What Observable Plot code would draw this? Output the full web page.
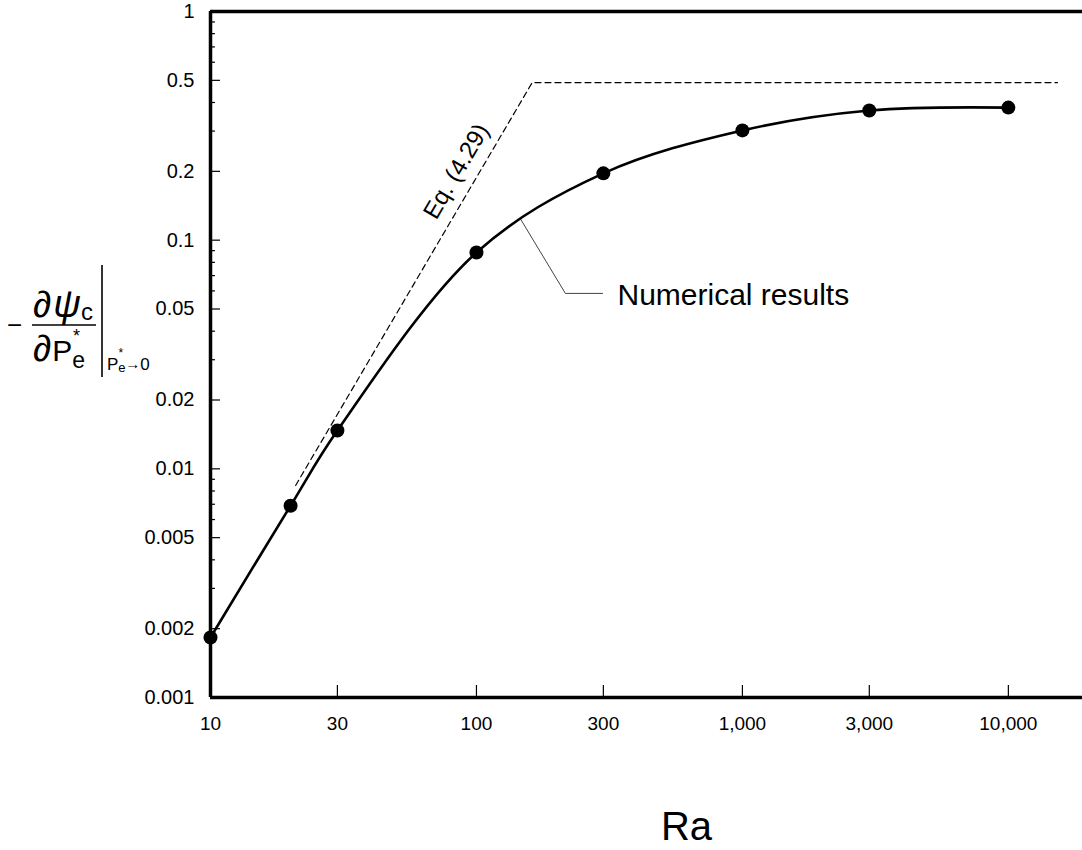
<!DOCTYPE html>
<html>
<head>
<meta charset="utf-8">
<script src="https://cdn.jsdelivr.net/npm/d3@7"></script>
<script src="https://cdn.jsdelivr.net/npm/@observablehq/plot@0.6"></script>
<style>
  body { margin: 0; background: #fff; }
  #chart { position: relative; width: 1082px; height: 850px; }
</style>
</head>
<body>
<div id="chart"></div>
<script>
// ---- data ----
const ra = [10, 20, 30, 100, 300, 1000, 3000, 10000];
const psi = [0.00183, 0.0069, 0.0147, 0.0883, 0.196, 0.302, 0.369, 0.380];

// Eq. (4.29) asymptotes (dashed)
const eqRa = [20.9, 162, 15300];
const eqPsi = [0.00846, 0.489, 0.489];

// leader line for the "Numerical results" label
const leaderRa = [146, 216, 298];
const leaderPsi = [0.1245, 0.0585, 0.0585];

// annotation anchors
const numLabel = {text: "Numerical results", ra: 339, psi: 0.0518};
const eqLabel = {text: "Eq. (4.29)", ra: 84, psi: 0.2};

// ticks
const xTicks = [10, 30, 100, 300, 1000, 3000, 10000];
const yMajor = [0.001, 0.002, 0.005, 0.01, 0.02, 0.05, 0.1, 0.2, 0.5, 1];
const yLabels = ["0.001", "0.002", "0.005", "0.01", "0.02", "0.05", "0.1", "0.2", "0.5", "1"];
const yMinor = [0.003, 0.004, 0.006, 0.007, 0.008, 0.009,
                0.03, 0.04, 0.06, 0.07, 0.08, 0.09,
                0.3, 0.4, 0.6, 0.7, 0.8, 0.9];

const points = ra.map((r, i) => ({ra: r, psi: psi[i]}));
const eqLine = eqRa.map((r, i) => ({ra: r, psi: eqPsi[i]}));
const leader = leaderRa.map((r, i) => ({ra: r, psi: leaderPsi[i]}));
const yTickRows = yMajor.map((v, i) => ({v, label: yLabels[i]}));

const font = "'Liberation Sans', Arial, Helvetica, sans-serif";

const chart = Plot.plot({
  width: 1082,
  height: 850,
  marginLeft: 210,
  marginRight: 0,
  marginTop: 11,
  marginBottom: 153,
  style: {fontFamily: font, fontSize: "19px", background: "#fff", color: "#000"},
  x: {type: "log", domain: [10, 19000], label: null},
  y: {type: "log", domain: [0.001, 1], label: null},
  marks: [
    Plot.axisY({ticks: yMinor, tickSize: -5, tickFormat: () => "", strokeWidth: 1.2}),
    Plot.axisY({ticks: yMajor, tickSize: -10, tickFormat: () => "", strokeWidth: 1.2}),
    Plot.text(yTickRows, {y: "v", text: "label", frameAnchor: "left", textAnchor: "end", lineAnchor: "middle", dx: -16, fontSize: 20, fill: "#000"}),
    Plot.axisX({ticks: xTicks, tickSize: -12, tickPadding: 31, tickFormat: d3.format(","), fontSize: 19, strokeWidth: 1.2}),
    Plot.line(eqLine, {x: "ra", y: "psi", stroke: "#000", strokeWidth: 1.2, strokeDasharray: "6,4"}),
    Plot.line(leader, {x: "ra", y: "psi", stroke: "#444", strokeWidth: 1}),
    Plot.line(points, {x: "ra", y: "psi", curve: "catmull-rom", stroke: "#000", strokeWidth: 2.6}),
    Plot.dot(points, {x: "ra", y: "psi", r: 7, fill: "#000", stroke: null}),
    Plot.text([numLabel], {x: "ra", y: "psi", text: "text", textAnchor: "start", lineAnchor: "bottom", fontSize: 30, fill: "#000"}),
    Plot.text([eqLabel], {x: "ra", y: "psi", text: "text", textAnchor: "middle", lineAnchor: "middle", rotate: -59.5, fontSize: 24, fill: "#000"}),
    Plot.text(["Ra"], {frameAnchor: "bottom", dx: 40, dy: 142, lineAnchor: "bottom", fontSize: 40, fill: "#000"}),
    Plot.ruleY([0.001, 1], {stroke: "#000", strokeWidth: 3.5}),
    Plot.ruleX([10], {stroke: "#000", strokeWidth: 3.5})
  ]
});

document.getElementById("chart").appendChild(chart);

// y-axis label: − ∂ψc / ∂Pe* |Pe*→0
const g = d3.select(chart).append("g")
  .attr("font-family", font)
  .attr("text-anchor", "start")
  .attr("fill", "#000");

function txt(x, y, parts) {
  const el = g.append("text").attr("x", x).attr("y", y).attr("text-anchor", "start");
  for (const p of parts) {
    const s = el.append("tspan").attr("font-size", p.size).text(p.s);
    if (p.dx) s.attr("dx", p.dx);
    if (p.dy) s.attr("dy", p.dy);
    if (p.italic) s.attr("font-style", "italic");
  }
}

txt(7, 334, [{s: "\u2212", size: 26}]);
g.append("line").attr("x1", 32).attr("x2", 96).attr("y1", 325).attr("y2", 325)
  .attr("stroke", "#000").attr("stroke-width", 1.6);
// numerator
txt(33, 317, [
  {s: "\u2202", size: 37},
  {s: "\u03C8", size: 38, italic: true, dx: 2},
  {s: "c", size: 24, dy: 3}
]);
// denominator
txt(33, 361, [
  {s: "\u2202", size: 37},
  {s: "P", size: 30, dx: 1},
  {s: "e", size: 23, dy: 7},
  {s: "*", size: 18, dx: -12, dy: -26}
]);
g.append("line").attr("x1", 102).attr("x2", 102).attr("y1", 265).attr("y2", 377)
  .attr("stroke", "#000").attr("stroke-width", 1.6);
// evaluation subscript
txt(107, 370, [
  {s: "P", size: 17},
  {s: "e", size: 13, dy: 2},
  {s: "*", size: 12, dx: -7, dy: -15},
  {s: "\u2192", size: 15, dx: 2, dy: 12},
  {s: "0", size: 17, dx: 0, dy: 1}
]);
</script>
</body>
</html>
